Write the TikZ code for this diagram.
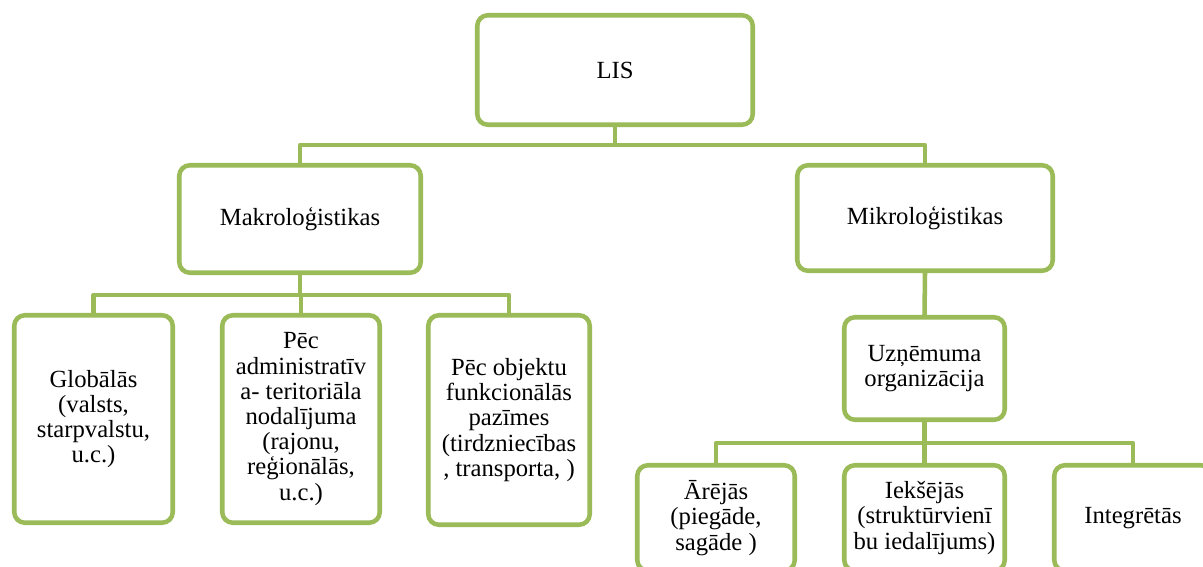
\documentclass[tikz,border=0pt]{standalone}
\usepackage{fontspec}
\setmainfont{Liberation Serif}
\definecolor{leaf}{HTML}{9BBB59}
\begin{document}
\begin{tikzpicture}[x=0.75pt,y=-0.75pt,
  box/.style={draw=leaf, line width=3.4pt, fill=white, rounded corners=8pt,
    inner sep=2pt, align=center, font=\fontsize{18.5}{18.9}\selectfont},
  size/.style n args={2}{minimum width=#1*0.75pt, minimum height=#2*0.75pt},
  link/.style={draw=leaf, line width=3.4pt, line join=round}]
\useasboundingbox (0,0) rectangle (1203,567);
\clip (0,0) rectangle (1203,567);

% top level
\node[box, size={275.5}{109.5}] (lis) at (615,70) {LIS};

% second level
\node[box, size={241.5}{107.5}] (makro) at (300,219) {Makroloģistikas};
\node[box, size={255.5}{105.5}] (mikro) at (925,218) {Mikroloģistikas};

% macro branch
\node[box, size={158.5}{207.5}] (glob) at (93.5,419)
  {Globālās\\(valsts,\\starpvalstu,\\u.c.)};
\node[box, size={157.5}{207.5}] (admin) at (301,419)
  {Pēc\\administratīv\\a- teritoriāla\\nodalījuma\\(rajonu,\\reģionālās,\\u.c.)};
\node[box, size={161.5}{209.5}] (objekt) at (509,420)
  {Pēc objektu\\funkcionālās\\pazīmes\\(tirdzniecības\\, transporta, )};

% micro branch
\node[box, size={160.5}{102.5}] (uzn) at (924.5,368.5)
  {Uzņēmuma\\organizācija};
\node[box, size={157.5}{105.5}] (arej) at (716,518)
  {Ārējās\\(piegāde,\\sagāde )};
\node[box, size={160.5}{105.5}] (ieks) at (924.5,518)
  {Iekšējās\\(struktūrvienī\\bu iedalījums)};
\node[box, size={157.5}{105.5}] (integ) at (1133,518)
  {Integrētās};

% connector bus levels
\coordinate (busA) at (0,145);
\coordinate (busB) at (0,295);
\coordinate (busC) at (0,443);

\draw[link] (lis.south) -- (lis.south |- busA);
\draw[link] (makro.north) -- (makro.north |- busA) -| (mikro.north);

\draw[link] (makro.south) -- (makro.south |- busB);
\draw[link] (glob.north) -- (glob.north |- busB) -| (objekt.north);
\draw[link] (admin.north) -- (admin.north |- busB);

\draw[link] (mikro.south) -- (uzn.north);

\draw[link] (uzn.south) -- (uzn.south |- busC);
\draw[link] (arej.north) -- (arej.north |- busC) -| (integ.north);
\draw[link] (ieks.north) -- (ieks.north |- busC);
\end{tikzpicture}
\end{document}
